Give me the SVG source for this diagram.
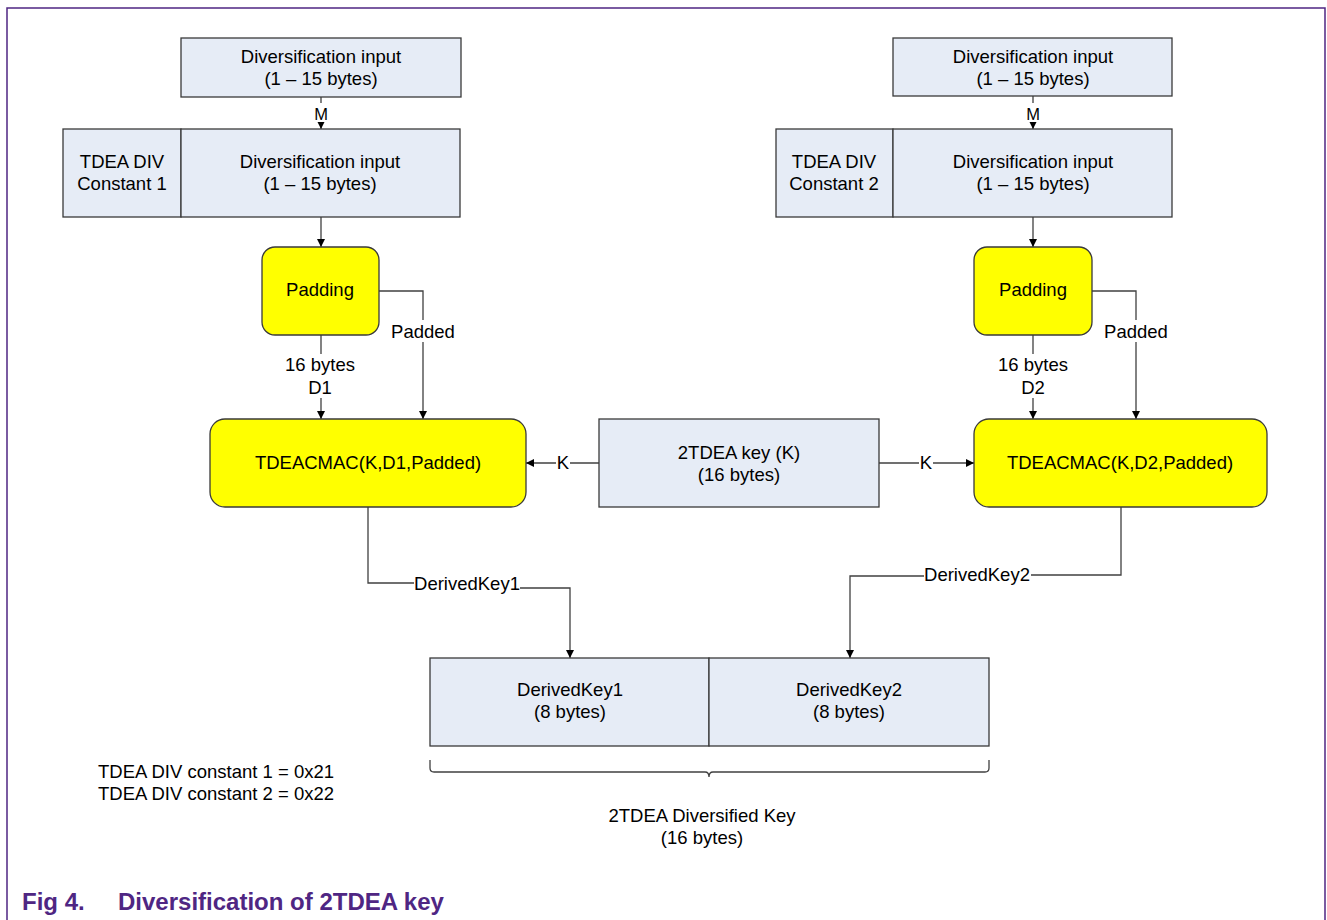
<svg xmlns="http://www.w3.org/2000/svg" width="1327" height="920" viewBox="0 0 1327 920">
<defs>
<marker id="arr" viewBox="0 0 10 10" refX="10" refY="5" markerWidth="8" markerHeight="8" markerUnits="userSpaceOnUse" orient="auto">
<path d="M0,0 L10,5 L0,10 Z" fill="#000"/>
</marker>
<style>
text{font-family:"Liberation Sans",Arial,sans-serif;font-size:18.5px;fill:#000;text-anchor:middle}
.box{fill:#e6ecf6;stroke:#3a3a3a;stroke-width:1.3}
.yel{fill:#ffff00;stroke:#3a3a3a;stroke-width:1.3}
.ln{fill:none;stroke:#404040;stroke-width:1.3}
.lbl{fill:#fff;stroke:none}
.left{text-anchor:start}
.cap{font-weight:bold;font-size:24px;fill:#4f2683;text-anchor:start}
</style>
</defs>
<rect width="1327" height="920" fill="#fff"/>
<path d="M7,920 V8 H1325 V920" fill="none" stroke="#4f2683" stroke-width="1.5"/>

<g id="connectors">
<path class="ln" d="M321,97 V129" marker-end="url(#arr)"/>
<rect class="lbl" x="312" y="103" width="18" height="19"/>
<text x="321" y="120" style="font-size:16.5px">M</text>
<path class="ln" d="M1033,96 V129" marker-end="url(#arr)"/>
<rect class="lbl" x="1024" y="103" width="18" height="19"/>
<text x="1033" y="120" style="font-size:16.5px">M</text>

<path class="ln" d="M321,217 V247" marker-end="url(#arr)"/>
<path class="ln" d="M1033,217 V247" marker-end="url(#arr)"/>

<path class="ln" d="M321,335 V419" marker-end="url(#arr)"/>
<rect class="lbl" x="283" y="354" width="76" height="44"/>
<text x="320" y="371">16 bytes</text>
<text x="320" y="394">D1</text>
<path class="ln" d="M379,291 H423 V419" marker-end="url(#arr)"/>
<rect class="lbl" x="389" y="320" width="68" height="22"/>
<text x="423" y="338">Padded</text>

<path class="ln" d="M1033,335 V419" marker-end="url(#arr)"/>
<rect class="lbl" x="995" y="354" width="76" height="44"/>
<text x="1033" y="371">16 bytes</text>
<text x="1033" y="394">D2</text>
<path class="ln" d="M1092,291 H1136 V419" marker-end="url(#arr)"/>
<rect class="lbl" x="1102" y="320" width="68" height="22"/>
<text x="1136" y="338">Padded</text>

<path class="ln" d="M599,463 H526" marker-end="url(#arr)"/>
<rect class="lbl" x="556" y="452" width="14" height="20"/>
<text x="563" y="469">K</text>
<path class="ln" d="M879,463 H974" marker-end="url(#arr)"/>
<rect class="lbl" x="919" y="452" width="14" height="20"/>
<text x="926" y="469">K</text>

<path class="ln" d="M368,507 V583 H414"/>
<path class="ln" d="M520,588 H570 V658" marker-end="url(#arr)"/>
<text x="467" y="590">DerivedKey1</text>

<path class="ln" d="M1121,507 V575 H1031"/>
<path class="ln" d="M924,576 H850 V658" marker-end="url(#arr)"/>
<text x="977" y="581">DerivedKey2</text>

<path class="ln" d="M430,760 V768 Q430,772 434,772 H705 Q709,772 709,777 Q709,772 713,772 H985 Q989,772 989,768 V760"/>
</g>

<g id="node-div-in-1">
<rect class="box" x="181" y="38" width="280" height="59"/>
<text x="321" y="63">Diversification input</text>
<text x="321" y="85">(1 – 15 bytes)</text>
</g>
<g id="node-const-1">
<rect class="box" x="63" y="129" width="118" height="88"/>
<text x="122" y="168">TDEA DIV</text>
<text x="122" y="190">Constant 1</text>
</g>
<g id="node-div-in-1b">
<rect class="box" x="181" y="129" width="279" height="88"/>
<text x="320" y="168">Diversification input</text>
<text x="320" y="190">(1 – 15 bytes)</text>
</g>
<g id="node-padding-1">
<rect class="yel" x="262" y="247" width="117" height="88" rx="13"/>
<text x="320" y="296">Padding</text>
</g>
<g id="node-cmac-1">
<rect class="yel" x="210" y="419" width="316" height="88" rx="15"/>
<text x="368" y="469">TDEACMAC(K,D1,Padded)</text>
</g>

<g id="node-div-in-2">
<rect class="box" x="893" y="38" width="279" height="58"/>
<text x="1033" y="63">Diversification input</text>
<text x="1033" y="85">(1 – 15 bytes)</text>
</g>
<g id="node-const-2">
<rect class="box" x="776" y="129" width="117" height="88"/>
<text x="834" y="168">TDEA DIV</text>
<text x="834" y="190">Constant 2</text>
</g>
<g id="node-div-in-2b">
<rect class="box" x="893" y="129" width="279" height="88"/>
<text x="1033" y="168">Diversification input</text>
<text x="1033" y="190">(1 – 15 bytes)</text>
</g>
<g id="node-padding-2">
<rect class="yel" x="974" y="247" width="118" height="88" rx="13"/>
<text x="1033" y="296">Padding</text>
</g>
<g id="node-cmac-2">
<rect class="yel" x="974" y="419" width="293" height="88" rx="15"/>
<text x="1120" y="469">TDEACMAC(K,D2,Padded)</text>
</g>

<g id="node-key">
<rect class="box" x="599" y="419" width="280" height="88"/>
<text x="739" y="459">2TDEA key (K)</text>
<text x="739" y="481">(16 bytes)</text>
</g>

<g id="node-dk1">
<rect class="box" x="430" y="658" width="279" height="88"/>
<text x="570" y="696">DerivedKey1</text>
<text x="570" y="718">(8 bytes)</text>
</g>
<g id="node-dk2">
<rect class="box" x="709" y="658" width="280" height="88"/>
<text x="849" y="696">DerivedKey2</text>
<text x="849" y="718">(8 bytes)</text>
</g>

<g id="notes">
<text class="left" x="98" y="778">TDEA DIV constant 1 = 0x21</text>
<text class="left" x="98" y="800">TDEA DIV constant 2 = 0x22</text>
<text x="702" y="822">2TDEA Diversified Key</text>
<text x="702" y="844">(16 bytes)</text>
</g>

<g id="caption">
<text class="cap" x="22" y="910">Fig 4.</text>
<text class="cap" x="118" y="910">Diversification of 2TDEA key</text>
</g>
</svg>
